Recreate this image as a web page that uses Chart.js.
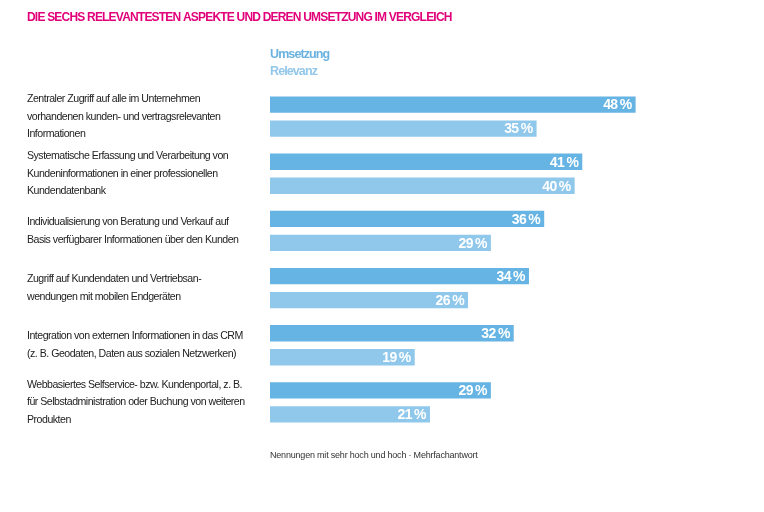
<!DOCTYPE html>
<html>
<head>
<meta charset="utf-8">
<script src="https://cdn.jsdelivr.net/npm/chart.js@4/dist/chart.umd.min.js"></script>
<style>
  html, body { margin: 0; padding: 0; background: #fff; }
  #wrap { width: 764px; height: 512px; }
</style>
</head>
<body>
<div id="wrap"><canvas id="aspekteChart"></canvas></div>
<script>
// SECHS RELEVANTESTE ASPEKTE - HORIZONTAL BAR

const aspekte = [
    ["Zentraler Zugriff auf alle im Unternehmen", "vorhandenen kunden- und vertragsrelevanten", "Informationen"],
    ["Systematische Erfassung und Verarbeitung von", "Kundeninformationen in einer professionellen", "Kundendatenbank"],
    ["Individualisierung von Beratung und Verkauf auf", "Basis verfügbarer Informationen über den Kunden"],
    ["Zugriff auf Kundendaten und Vertriebsan-", "wendungen mit mobilen Endgeräten"],
    ["Integration von externen Informationen in das CRM", "(z. B. Geodaten, Daten aus sozialen Netzwerken)"],
    ["Webbasiertes Selfservice- bzw. Kundenportal, z. B.", "für Selbstadministration oder Buchung von weiteren", "Produkten"]
];
const umsetzung = [48, 41, 36, 34, 32, 29];
const relevanz = [35, 40, 29, 26, 19, 21];
const seriesNames = ["Umsetzung", "Relevanz"];

const titleText = "DIE SECHS RELEVANTESTEN ASPEKTE UND DEREN UMSETZUNG IM VERGLEICH";
const footnote = "Nennungen mit sehr hoch und hoch · Mehrfachantwort";

const fontFam = "'Liberation Sans', Arial, sans-serif";

// tighter letters, the original uses a condensed face
const tighten = {
    id: 'tighten',
    beforeDraw(chart) {
        chart.ctx.letterSpacing = '-0.5px';
    }
};

// title, legend, value labels and footnote
const extras = {
    id: 'extras',
    afterDatasetsDraw(chart) {
        const ctx = chart.ctx;
        const area = chart.chartArea;
        ctx.save();

        // value labels inside bars
        ctx.letterSpacing = '-0.6px';
        ctx.font = "bold 14px " + fontFam;
        ctx.fillStyle = "#ffffff";
        ctx.textAlign = "right";
        ctx.textBaseline = "middle";
        chart.data.datasets.forEach((ds, i) => {
            chart.getDatasetMeta(i).data.forEach((bar, j) => {
                ctx.fillText(ds.data[j] + "\u2009%", bar.x - 4, bar.y + 1);
            });
        });

        ctx.textAlign = "left";

        // title
        ctx.letterSpacing = '-0.8px';
        ctx.font = "bold 12px " + fontFam;
        ctx.fillStyle = "#e2007a";
        ctx.fillText(titleText, 27, 18);

        // legend as coloured text
        ctx.letterSpacing = '-0.9px';
        ctx.font = "bold 12.5px " + fontFam;
        chart.data.datasets.forEach((ds, i) => {
            ctx.fillStyle = ds.legendColor;
            ctx.fillText(ds.label, area.left, 55 + i * 17);
        });

        // footnote
        ctx.letterSpacing = '-0.2px';
        ctx.font = "9px " + fontFam;
        ctx.fillStyle = "#333333";
        ctx.fillText(footnote, area.left, 456);
        ctx.restore();
    }
};

const aspekteChart = new Chart(document.getElementById("aspekteChart"), {
    type: 'bar',
    data: {
        labels: aspekte,
        datasets: [
            {
                label: seriesNames[0],
                data: umsetzung,
                backgroundColor: "#66b4e3",
                legendColor: "#6ab2df",
                categoryPercentage: 0.84,
                barPercentage: 0.68
            },
            {
                label: seriesNames[1],
                data: relevanz,
                backgroundColor: "#90c8ec",
                legendColor: "#92c7ea",
                categoryPercentage: 0.84,
                barPercentage: 0.68
            }
        ]
    },
    options: {
        indexAxis: 'y',
        responsive: true,
        maintainAspectRatio: false,
        animation: false,
        layout: { padding: { top: 88, left: 27, right: 37, bottom: 81 } },
        plugins: {
            legend: { display: false },
            tooltip: { enabled: false },
            title: { display: false }
        },
        scales: {
            x: {
                display: false,
                min: 0,
                max: 60
            },
            y: {
                afterFit(scale) { scale.width = 243; },
                grid: { display: false },
                border: { display: false },
                ticks: {
                    crossAlign: 'far',
                    color: "#222222",
                    padding: 0,
                    font: { family: fontFam, size: 10.6, lineHeight: 1.65 }
                }
            }
        }
    },
    plugins: [tighten, extras]
});
</script>
</body>
</html>
